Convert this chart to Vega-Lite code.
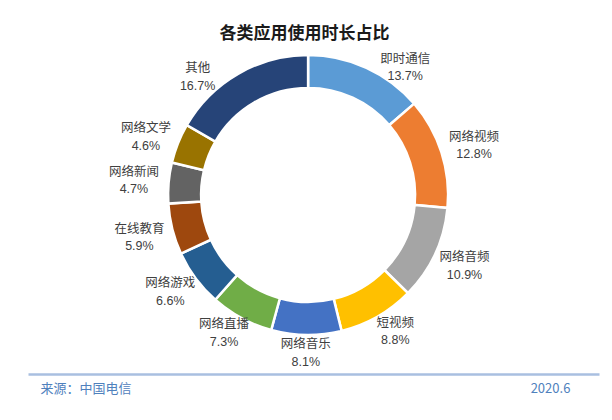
{
  "$schema": "https://vega.github.io/schema/vega-lite/v6.json",
  "autosize": "none",
  "width": 571,
  "height": 358,
  "padding": {"left": 28, "right": 13, "top": 16, "bottom": 46},
  "background": "white",
  "title": {
    "text": "各类应用使用时长占比",
    "font": "Noto Sans CJK SC",
    "fontSize": 17,
    "fontWeight": "bold",
    "color": "#1a1a1a",
    "anchor": "middle",
    "frame": "group",
    "dx": -9,
    "offset": -27
  },
  "config": {"view": {"stroke": null}},
  "data": {
    "values": [
      {"i": 1, "name": "即时通信", "value": 13.7},
      {"i": 2, "name": "网络视频", "value": 12.8},
      {"i": 3, "name": "网络音频", "value": 10.9},
      {"i": 4, "name": "短视频", "value": 8.8},
      {"i": 5, "name": "网络音乐", "value": 8.1},
      {"i": 6, "name": "网络直播", "value": 7.3},
      {"i": 7, "name": "网络游戏", "value": 6.6},
      {"i": 8, "name": "在线教育", "value": 5.9},
      {"i": 9, "name": "网络新闻", "value": 4.7},
      {"i": 10, "name": "网络文学", "value": 4.6},
      {"i": 11, "name": "其他", "value": 16.7}
    ]
  },
  "transform": [
    {"calculate": "format(datum.value, '.1f') + '%'", "as": "pct"}
  ],
  "encoding": {
    "theta": {"field": "value", "type": "quantitative", "stack": true},
    "order": {"field": "i", "type": "quantitative"},
    "x": {
      "datum": 0.506,
      "type": "quantitative",
      "scale": {"domain": [-0.0226, 1.055], "nice": false, "zero": false},
      "axis": {
        "values": [0, 1],
        "labelExpr": "datum.value == 0 ? '来源：中国电信' : '2020.6'",
        "labelAlign": {"condition": {"test": "datum.value == 0", "value": "left"}, "value": "right"},
        "ticks": false,
        "grid": false,
        "domainColor": "#A9BFE0",
        "domainWidth": 2.5,
        "labelColor": "#4F81BD",
        "labelFont": "Noto Sans CJK SC",
        "labelFontSize": 13,
        "labelPadding": 8,
        "labelFlush": false,
        "labelOverlap": false,
        "title": null
      }
    }
  },
  "layer": [
    {
      "mark": {"type": "arc", "innerRadius": 107, "outerRadius": 140, "stroke": "white", "strokeWidth": 2.5},
      "encoding": {
        "color": {
          "field": "name",
          "type": "nominal",
          "scale": {
            "domain": ["即时通信", "网络视频", "网络音频", "短视频", "网络音乐", "网络直播", "网络游戏", "在线教育", "网络新闻", "网络文学", "其他"],
            "range": ["#5B9BD5", "#ED7D31", "#A5A5A5", "#FFC000", "#4472C4", "#70AD47", "#255E91", "#9E480E", "#636363", "#997300", "#264478"]
          },
          "legend": null
        }
      }
    },
    {
      "mark": {
        "type": "text",
        "radius": {"expr": "1 / sqrt(pow(sin(scale('theta', 0.5*datum.value_start + 0.5*datum.value_end)) / 175, 2) + pow(cos(scale('theta', 0.5*datum.value_start + 0.5*datum.value_end)) / 158, 2))"},
        "thetaOffset": {"expr": "(cos(scale('theta', 0.5*datum.value_start + 0.5*datum.value_end)) > 0 ? 0.35 : 0.08) * sin(2*scale('theta', 0.5*datum.value_start + 0.5*datum.value_end)) * pow(cos(scale('theta', 0.5*datum.value_start + 0.5*datum.value_end)), 2)"},
        "dy": -8.5,
        "font": "Noto Sans CJK SC",
        "fontSize": 12.5,
        "color": "#404040",
        "align": "center",
        "baseline": "middle"
      },
      "encoding": {
        "text": {"field": "name", "type": "nominal"}
      }
    },
    {
      "mark": {
        "type": "text",
        "radius": {"expr": "1 / sqrt(pow(sin(scale('theta', 0.5*datum.value_start + 0.5*datum.value_end)) / 175, 2) + pow(cos(scale('theta', 0.5*datum.value_start + 0.5*datum.value_end)) / 158, 2))"},
        "thetaOffset": {"expr": "(cos(scale('theta', 0.5*datum.value_start + 0.5*datum.value_end)) > 0 ? 0.35 : 0.08) * sin(2*scale('theta', 0.5*datum.value_start + 0.5*datum.value_end)) * pow(cos(scale('theta', 0.5*datum.value_start + 0.5*datum.value_end)), 2)"},
        "dy": 9,
        "font": "Liberation Sans",
        "fontSize": 12.5,
        "color": "#404040",
        "align": "center",
        "baseline": "middle"
      },
      "encoding": {
        "text": {"field": "pct", "type": "nominal"}
      }
    }
  ]
}
